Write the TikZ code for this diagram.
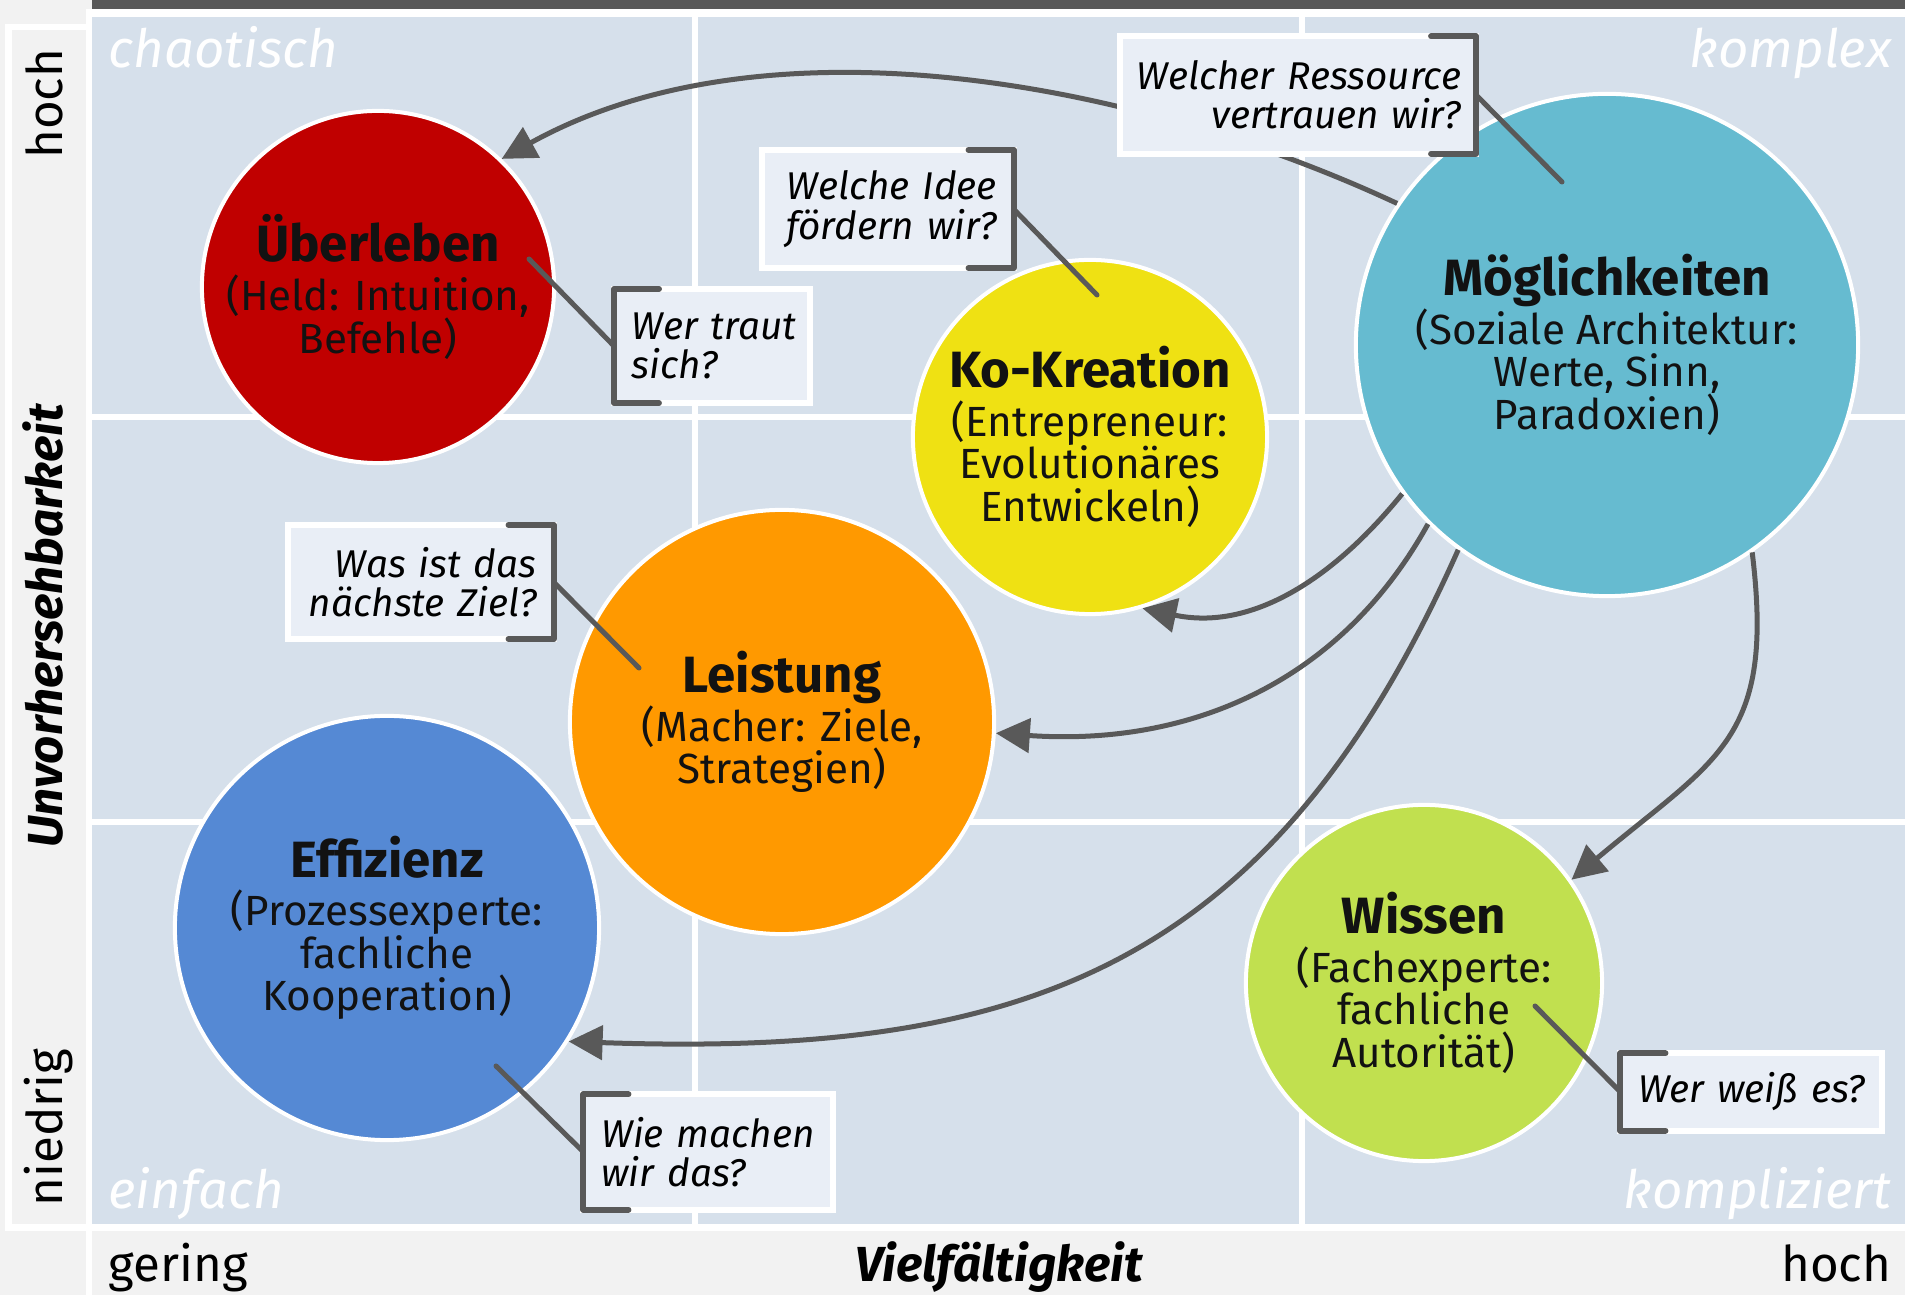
\documentclass[tikz,border=0pt]{standalone}
\usepackage{fontspec}
\setmainfont{Fira Sans}
\usetikzlibrary{arrows.meta}
\lineskiplimit=-20pt
\hbadness=10000 \hfuzz=50pt

\definecolor{cBack}{HTML}{F2F2F2}
\definecolor{cGrid}{HTML}{D6E0EB}
\definecolor{cDark}{HTML}{595959}
\definecolor{cQuest}{HTML}{E9EEF6}
\definecolor{cUeber}{HTML}{C00000}
\definecolor{cKo}{HTML}{EFE113}
\definecolor{cMoeg}{HTML}{66BBD0}
\definecolor{cLeist}{HTML}{FF9900}
\definecolor{cEff}{HTML}{5589D4}
\definecolor{cWiss}{HTML}{C1E04F}

\begin{document}
\begin{tikzpicture}[x=0.01cm, y=-0.01cm,
  role/.style={circle, draw=white, line width=0.04cm, inner sep=0pt, align=center, text=black!93, font=\fontsize{12}{12.1}\selectfont},
  question/.style={rectangle, draw=white, line width=0.06cm, fill=cQuest, inner xsep=0.17cm, inner ysep=0pt, outer sep=0pt, font=\fontsize{11}{11.2}\selectfont\itshape},
  bracket/.style={draw=cDark, line width=0.06cm, line cap=round, line join=round},
  leader/.style={draw=cDark, line width=0.05cm, line cap=round},
  arrow/.style={draw=cDark, line width=0.05cm, -{Triangle[length=0.34cm, width=0.34cm]}},
  quadrant/.style={text=white, font=\fontsize{15}{15}\selectfont\itshape, inner sep=0pt},
  axis/.style={font=\fontsize{14}{14}\selectfont, inner sep=0pt}
]
\useasboundingbox (0,0) rectangle (1905,1295);

% Background and frame
\fill[cBack] (0,0) rectangle (1905,1295);
\fill[white] (86,9) rectangle (1905,1231);
\fill[white] (5,24) rectangle (92,1231);
\fill[white] (86,1231) rectangle (92,1295);
\fill[cBack] (12,30) rectangle (86,1224);
\fill[cDark] (92,0) rectangle (1905,9);

% Grid (3x3)
\fill[cGrid] (92,17) rectangle (1905,1224);
\foreach \x in {695,1302}
  \draw[white, line width=0.055cm] (\x,17) -- (\x,1224);
\foreach \y in {417,822}
  \draw[white, line width=0.055cm] (92,\y) -- (1905,\y);

% Quadrant names
\node[quadrant, anchor=base west] (chaos) at (108,68) {chaotisch};
\node[quadrant, anchor=base east] (komplex) at (1892,68) {komplex};
\node[quadrant, anchor=base west] (einfach) at (108,1209) {einfach};
\node[quadrant, anchor=base east] (kompl) at (1892,1209) {kompliziert};

% Axes
\node[axis, rotate=90, anchor=base east] (yhoch) at (63,48) {hoch};
\node[axis, rotate=90, anchor=base west] (ynied) at (63,1207) {niedrig};
\node[axis, rotate=90, anchor=base, font=\fontsize{14}{14}\selectfont\bfseries\itshape] (ylabel) at (63,626) {Unvorhersehbarkeit};
\node[axis, anchor=base west] (xger) at (108,1282) {gering};
\node[axis, anchor=base, font=\fontsize{14}{14}\selectfont\bfseries\itshape] (xlabel) at (999,1282) {Vielfältigkeit};
\node[axis, anchor=base east] (xhoch) at (1892,1282) {hoch};

% Roles
\node[role, fill=cUeber, minimum size=3.52cm] (ueber) at (378,287)
  {{\fontsize{14.5}{14.5}\selectfont\bfseries Überleben}\\[1.7pt](Held: Intuition,\\Befehle)};
\node[role, fill=cKo, minimum size=3.54cm] (ko) at (1090,437)
  {{\fontsize{14.5}{14.5}\selectfont\bfseries Ko-Kreation}\\[1.7pt](Entrepreneur:\\Evolutionäres\\Entwickeln)};
\node[role, fill=cMoeg, minimum size=5.02cm] (moeg) at (1607,345)
  {{\fontsize{14.5}{14.5}\selectfont\bfseries Möglichkeiten}\\[1.7pt](Soziale Architektur:\\Werte, Sinn,\\Paradoxien)};
\node[role, fill=cLeist, minimum size=4.24cm] (leist) at (782,722)
  {{\fontsize{14.5}{14.5}\selectfont\bfseries Leistung}\\[1.7pt](Macher: Ziele,\\Strategien)};
\node[role, fill=cEff, minimum size=4.24cm] (eff) at (387,928)
  {{\fontsize{14.5}{14.5}\selectfont\bfseries Effizienz}\\[1.7pt](Prozessexperte:\\fachliche\\Kooperation)};
\node[role, fill=cWiss, minimum size=3.56cm] (wiss) at (1424,983)
  {{\fontsize{14.5}{14.5}\selectfont\bfseries Wissen}\\[1.7pt](Fachexperte:\\fachliche\\Autorität)};

% Arrows from Moeglichkeiten
\draw[arrow] (moeg.146) to[out=155, in=29, looseness=0.85] (ueber.46);
\draw[arrow] (moeg.216) to[out=231, in=-12] (ko.287);
\draw[arrow] (moeg.225) to[out=241, in=-4] (leist.-3);
\draw[arrow] (moeg.234) to[out=246, in=-2, looseness=1.15] (eff.-32);
\draw[arrow] (moeg.-55) to[out=-83, in=40, looseness=1.3] (wiss.35);

% Questions
\node[question, inner xsep=0.15cm, text width=3.26cm, minimum height=1.17cm, align=right] (fa) at (1298,95) {Welcher~Ressource\\vertrauen~wir?};
\node[question, text width=2.17cm, minimum height=1.18cm, align=right] (fb) at (888,209) {Welche~Idee\\fördern~wir?};
\node[question, inner xsep=0.18cm, text width=1.60cm, minimum height=1.14cm, align=left] (fc) at (712,346) {Wer~traut\\sich?};
\node[question, text width=2.31cm, minimum height=1.14cm, align=right] (fd) at (421,582) {Was~ist~das\\nächste~Ziel?};
\node[question, inner xsep=0.18cm, text width=2.13cm, minimum height=1.15cm, align=left] (fe) at (708,1152) {Wie~machen\\wir~das?};
\node[question, inner xsep=0.18cm, text width=2.25cm, minimum height=0.77cm, align=left] (ff) at (1751,1092) {Wer~weiß~es?};

% Brackets on the questions
\foreach \q in {fa,fb,fd}
  \draw[bracket] ([xshift=-0.45cm]\q.north east) -- (\q.north east) -- (\q.south east) -- ++(-45,0);
\foreach \q in {fc,fe,ff}
  \draw[bracket] ([xshift=0.45cm]\q.north west) -- (\q.north west) -- (\q.south west) -- ++(45,0);

% Leader lines into the roles
\coordinate (qa) at (1562,182);
\coordinate (qb) at (1097,295);
\coordinate (qc) at (529,259);
\coordinate (qd) at (639,668);
\coordinate (qe) at (496,1066);
\coordinate (qf) at (1535,1006);
\draw[leader] (fa.east) -- (qa);
\draw[leader] (fb.east) -- (qb);
\draw[leader] (fc.west) -- (qc);
\draw[leader] (fd.east) -- (qd);
\draw[leader] (fe.west) -- (qe);
\draw[leader] (ff.west) -- (qf);

\end{tikzpicture}
\end{document}
